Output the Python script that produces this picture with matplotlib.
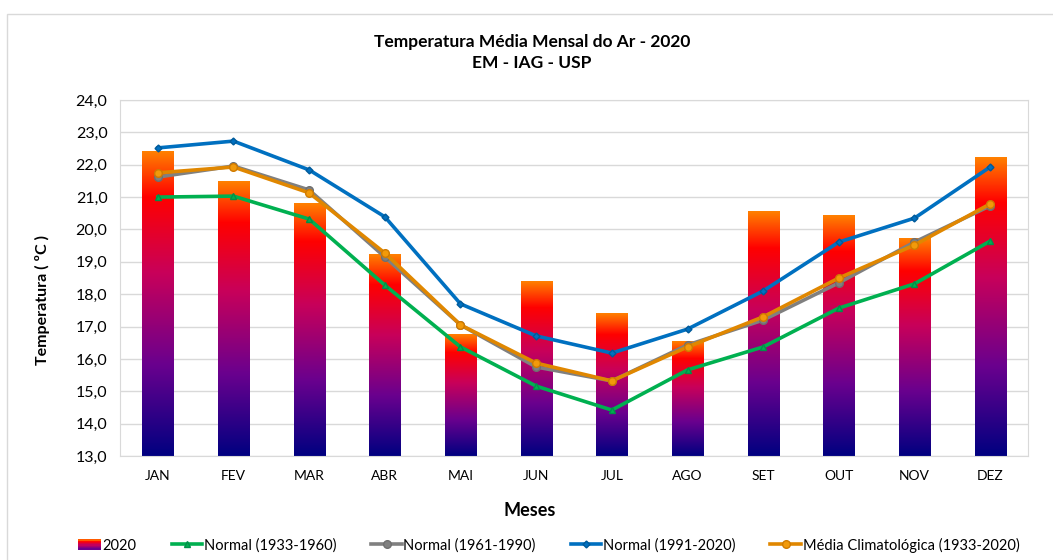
import numpy as np
import matplotlib
matplotlib.use("Agg")
import matplotlib.pyplot as plt
from matplotlib.colors import LinearSegmentedColormap
from matplotlib.legend_handler import HandlerBase
from matplotlib.patches import Rectangle
from matplotlib.ticker import FuncFormatter, MultipleLocator

plt.rcParams['font.family'] = ['Lato', 'DejaVu Sans']

# data
meses = ['JAN', 'FEV', 'MAR', 'ABR', 'MAI', 'JUN', 'JUL', 'AGO', 'SET', 'OUT', 'NOV', 'DEZ']
t2020 = [22.42, 21.47, 20.79, 19.24, 16.74, 18.38, 17.39, 16.55, 20.57, 20.42, 19.71, 22.21]
normal_1933_1960 = [21.00, 21.03, 20.32, 18.28, 16.37, 15.16, 14.42, 15.66, 16.37, 17.57, 18.32, 19.64]
normal_1961_1990 = [21.62, 21.96, 21.22, 19.15, 17.05, 15.75, 15.32, 16.43, 17.20, 18.35, 19.61, 20.73]
normal_1991_2020 = [22.52, 22.73, 21.84, 20.39, 17.70, 16.71, 16.18, 16.92, 18.10, 19.61, 20.35, 21.93]
media_clim = [21.75, 21.93, 21.13, 19.27, 17.05, 15.87, 15.32, 16.37, 17.30, 18.50, 19.52, 20.79]

ymin, ymax = 13.0, 24.0

# fire-like gradient, bottom -> top
fire = LinearSegmentedColormap.from_list(
    'fire', [(0.0, '#000080'), (0.3, '#6A008E'), (0.6, '#C8005A'),
             (0.85, '#FF0000'), (1.0, '#FF8000')])

fig = plt.figure(figsize=(10.53, 5.6), dpi=100)
ax = fig.add_axes([120 / 1053, 1 - 456 / 560, 908 / 1053, 356 / 560])

# outer chart frame
fig.patches.append(Rectangle((7 / 1053, -0.1), 2, 1 - 14 / 560 + 0.1,
                             transform=fig.transFigure, fill=False,
                             edgecolor='#D9D9D9', linewidth=1))

x = np.arange(len(meses))
w = 0.41
bars = ax.bar(x, np.array(t2020) - ymin, bottom=ymin, width=w,
              color='none', edgecolor='none', label='2020')
grad = np.linspace(0, 1, 256).reshape(-1, 1)
for b in bars:
    x0 = b.get_x()
    ax.imshow(grad, extent=[x0, x0 + b.get_width(), b.get_y(), b.get_y() + b.get_height()],
              origin='lower', aspect='auto', cmap=fire, zorder=2)

lw = 2.6
ax.plot(x, normal_1933_1960, color='#00B050', lw=lw, marker='^', ms=5,
        mec='#00904A', zorder=3, label='Normal (1933-1960)')
ax.plot(x, normal_1961_1990, color='#808080', lw=lw, marker='o', ms=5.5,
        mec='#6F6F6F', zorder=3, label='Normal (1961-1990)')
ax.plot(x, normal_1991_2020, color='#0070C0', lw=lw, marker='D', ms=3.5,
        mec='#005A9A', zorder=4, label='Normal (1991-2020)')
ax.plot(x, media_clim, color='#E08700', lw=lw, marker='o', ms=5.5,
        mfc='#F29A0A', mec='#D07A00', zorder=4, label='Média Climatológica (1933-2020)')

ax.set_xlim(-0.5, len(meses) - 0.5)
ax.set_ylim(ymin, ymax)
ax.yaxis.set_major_locator(MultipleLocator(1))
ax.yaxis.set_major_formatter(FuncFormatter(lambda v, p: f'{v:.1f}'.replace('.', ',')))
ax.set_xticks(x)
ax.set_xticklabels(meses, fontsize=10)
ax.tick_params(axis='y', labelsize=11.5, length=0, pad=9)
ax.tick_params(axis='x', length=0, pad=10)
ax.grid(axis='y', color='#D9D9D9', linewidth=1)
ax.set_axisbelow(True)
for s in ax.spines.values():
    s.set_color('#D9D9D9')

fig.text(532 / 1053, 1 - 42 / 560, 'Temperatura Média Mensal do Ar - 2020',
         ha='center', va='center', fontsize=12.5, fontweight='bold')
fig.text(532 / 1053, 1 - 63 / 560, 'EM - IAG - USP',
         ha='center', va='center', fontsize=12.5, fontweight='bold')
fig.text(42 / 1053, 1 - 300 / 560, 'Temperatura ( ºC )', rotation=90,
         ha='center', va='center', fontsize=11.5, fontweight='bold')
fig.text(530 / 1053, 1 - 510 / 560, 'Meses', ha='center', va='center',
         fontsize=13, fontweight='bold')


class GradientHandler(HandlerBase):
    def create_artists(self, legend, orig, xd, yd, width, height, fontsize, trans):
        n = 8
        arts = []
        bw = width * 0.75
        x0 = xd + width - bw
        for i in range(n):
            r = Rectangle((x0, yd + height * i / n), bw, height / n + 0.3,
                          facecolor=fire(0.25 + 0.75 * (i + 0.5) / n), edgecolor='none',
                          transform=trans)
            arts.append(r)
        return arts


handles, labels = ax.get_legend_handles_labels()
order = [4, 0, 1, 2, 3]
fig.legend([handles[i] for i in order], [labels[i] for i in order],
           loc='center', bbox_to_anchor=(545 / 1053, 1 - 545 / 560),
           ncol=5, frameon=False, fontsize=10.5, handlelength=2.1, handletextpad=0.1,
           columnspacing=2.4, handler_map={bars: GradientHandler()})

fig.savefig('out.png', dpi=100)
